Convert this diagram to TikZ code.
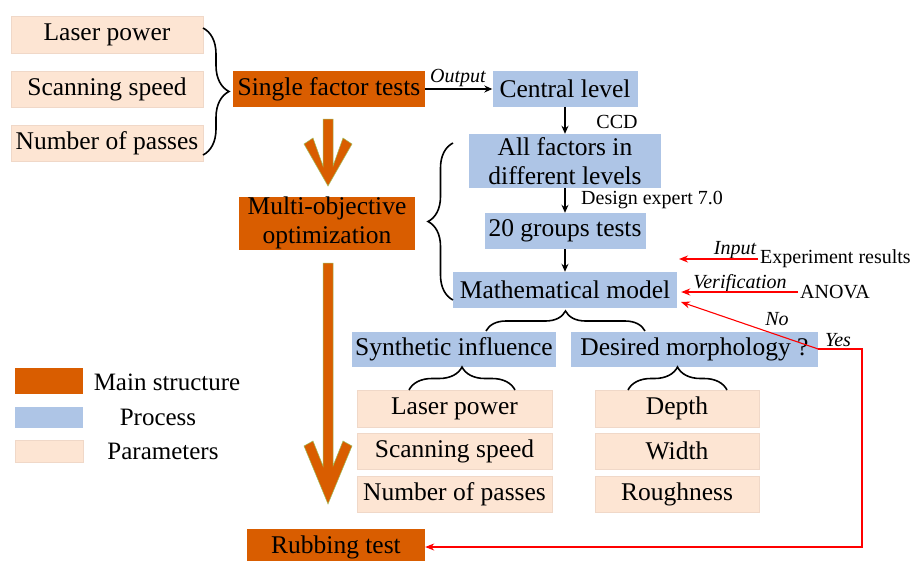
\documentclass[tikz,border=0pt]{standalone}
\usepackage{fontspec}
\setmainfont{Liberation Serif}
\usetikzlibrary{arrows.meta,decorations.pathreplacing,calc}
\definecolor{mainC}{RGB}{217,93,0}
\definecolor{procC}{RGB}{174,197,230}
\definecolor{parC}{RGB}{253,229,211}
\definecolor{parD}{RGB}{240,216,200}
\definecolor{arrE}{RGB}{160,190,90}
\begin{document}
\begin{tikzpicture}[x=1pt,y=-1pt,
 bx/.style={rectangle,inner sep=0pt,align=center,font=\fontsize{25.5}{29}\selectfont},
 mainbox/.style={bx,fill=mainC},
 procbox/.style={bx,fill=procC},
 parbox/.style={bx,fill=parC,draw=parD,line width=0.8pt},
 lbl/.style={inner sep=2pt,font=\fontsize{20}{22}\selectfont},
 ilbl/.style={inner sep=2pt,font=\fontsize{20}{22}\selectfont\itshape},
 legtxt/.style={inner sep=0pt,font=\fontsize{25}{29}\selectfont},
 blk/.style={line width=1.5pt,-{Stealth[length=8pt,width=7pt]}},
 redarr/.style={red,line width=1.6pt,-{Stealth[length=9pt,width=7pt]}},
 redthin/.style={red,line width=1.1pt},
 brc/.style={decorate,line width=1.6pt},
 bigarrow/.style={fill=mainC,draw=arrE,line width=0.5pt}
]
\clip (0,0) rectangle (919,560);
\fill[white] (0,0) rectangle (919,560);

% left parameters
\node[parbox,minimum width=192pt,minimum height=37pt] (lp1) at (107,34.5) {Laser power};
\node[parbox,minimum width=192pt,minimum height=36pt] (ss1) at (107,89) {Scanning speed};
\node[parbox,minimum width=192pt,minimum height=36pt] (np1) at (107,143) {Number of passes};

% main structure
\node[mainbox,minimum width=192pt,minimum height=36pt] (sft) at (329,89) {Single factor tests};
\node[mainbox,minimum width=176pt,minimum height=53pt] (moo) at (327,223) {Multi-objective\\optimization};
\node[mainbox,minimum width=178pt,minimum height=36pt] (rt) at (336,547) {Rubbing test};

% process
\node[procbox,minimum width=145pt,minimum height=36pt] (cl) at (565,89) {Central level};
\node[procbox,minimum width=192pt,minimum height=54pt] (af) at (565,161) {All factors in\\different levels};
\node[procbox,minimum width=161pt,minimum height=36pt] (gt) at (565,231) {20 groups tests};
\node[procbox,minimum width=224pt,minimum height=36pt] (mm) at (565,290) {Mathematical model};
\node[procbox,minimum width=204pt,minimum height=35pt] (si) at (454,349) {Synthetic influence};
\node[procbox,minimum width=247pt,minimum height=35pt] (dm) at (694.5,349) {Desired morphology ?};

% lower parameters
\node[parbox,minimum width=195pt,minimum height=37pt] (lp2) at (454.5,408.5) {Laser power};
\node[parbox,minimum width=195pt,minimum height=36pt] (ss2) at (454.5,451) {Scanning speed};
\node[parbox,minimum width=195pt,minimum height=36pt] (np2) at (454.5,494) {Number of passes};
\node[parbox,minimum width=164pt,minimum height=37pt] (de) at (677,408.5) {Depth};
\node[parbox,minimum width=164pt,minimum height=36pt] (wi) at (677,451) {Width};
\node[parbox,minimum width=164pt,minimum height=36pt] (ro) at (677,494) {Roughness};

% black arrows and labels
\draw[blk] (sft.east) -- (cl.west);
\node[ilbl] (outl) at (458,78) {Output};
\draw[blk] (cl.south) -- (af.north);
\node[lbl] (ccd) at (617,122) {CCD};
\draw[blk] (af.south) -- (gt.north);
\node[lbl,anchor=west] (dex) at (579,200) {Design expert 7.0};
\draw[blk] (gt.south) -- (mm.north);

% red inputs
\node[lbl,anchor=west] (er) at (758,259) {Experiment results};
\node[ilbl] (inl) at (735,250) {Input};
\coordinate (inT) at (679,259);
\draw[redarr] (er.west) -- (inT);
\node[lbl,anchor=west] (anova) at (798,292) {ANOVA};
\node[ilbl] (verl) at (740,284) {Verification};
\draw[redarr] (anova.west) -- ([xshift=4pt]mm.east |- anova.west);

% yes / no
\coordinate (noT) at (681,302);
\coordinate (ycorner) at (862,349);
\draw[redthin,-{Stealth[length=9pt,width=7pt]}] (dm.east) -- (noT);
\draw[redthin,-{Stealth[length=9pt,width=7pt]}] (dm.east) -- (ycorner) |- (rt.east);
\node[ilbl] (nol) at (777,319) {No};
\node[ilbl] (yesl) at (838,340) {Yes};

% braces
\draw[brc,decoration={brace,amplitude=26pt}] (203,28) -- (203,155);
\draw[brc,decoration={brace,amplitude=25pt}] (453,300) -- (453,143);
\draw[brc,decoration={brace,amplitude=20pt}] (486,331) -- (645,331);
\draw[brc,decoration={brace,amplitude=23pt}] (409,390) -- (515,390);
\draw[brc,decoration={brace,amplitude=23pt}] (628,390) -- (727,390);

% big orange arrows
\draw[bigarrow] (323,119) -- (333,119) -- (333,166) -- (343,138) -- (352,144) -- (328,186) -- (304,144) -- (313,138) -- (323,166) -- cycle;
\draw[bigarrow] (323,263) -- (333,263) -- (333,466) -- (343,441) -- (352,446) -- (328,504) -- (304,446) -- (313,441) -- (323,466) -- cycle;

% legend
\node[mainbox,minimum width=68pt,minimum height=26pt] (lg1) at (49,381) {};
\node[procbox,minimum width=68pt,minimum height=21pt] (lg2) at (49,417.5) {};
\node[parbox,minimum width=68pt,minimum height=22pt] (lg3) at (49,451) {};
\node[legtxt] (lt1) at (167,382) {Main structure};
\node[legtxt] (lt2) at (158,417) {Process};
\node[legtxt] (lt3) at (163,451) {Parameters};
\end{tikzpicture}
\end{document}
